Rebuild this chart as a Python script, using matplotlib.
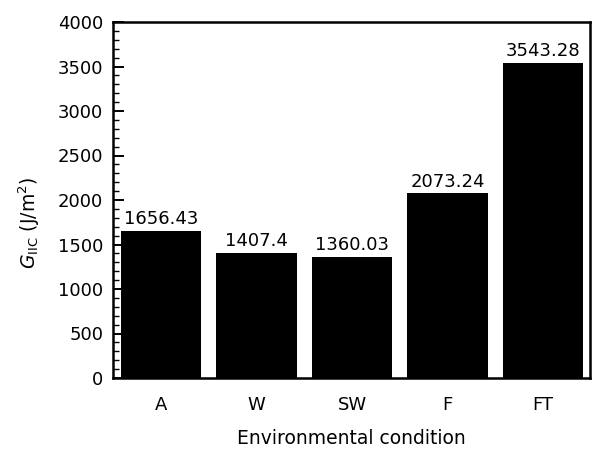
import matplotlib
matplotlib.use("Agg")
import matplotlib.pyplot as plt
from matplotlib.ticker import MultipleLocator

conditions = ["A", "W", "SW", "F", "FT"]
g_iic = [1656.43, 1407.4, 1360.03, 2073.24, 3543.28]
value_labels = ["1656.43", "1407.4", "1360.03", "2073.24", "3543.28"]

plt.rcParams["font.family"] = ["DejaVu Sans"]
plt.rcParams["mathtext.fontset"] = "dejavusans"

fig = plt.figure(figsize=(5.93, 4.53), dpi=100)
ax = fig.add_axes([113 / 593, 1 - 378 / 453, 477 / 593, 356 / 453])

x = range(len(conditions))
ax.bar(x, g_iic, width=0.84, color="black")

# value printed above each bar
for xi, v, lab in zip(x, g_iic, value_labels):
    ax.text(xi, v + 30, lab, ha="center", va="bottom", fontsize=13)

ax.set_xlim(-0.5, 4.49)
ax.set_ylim(0, 4000)
ax.yaxis.set_major_locator(MultipleLocator(500))
ax.yaxis.set_minor_locator(MultipleLocator(100))
ax.tick_params(axis="y", which="major", direction="in", length=8, width=1.4, labelsize=13, pad=7)
ax.tick_params(axis="y", which="minor", direction="in", length=4, width=1.0)
ax.tick_params(axis="x", length=0, labelsize=13, pad=13)
ax.set_xticks(list(x))
ax.set_xticklabels(conditions)

for s in ax.spines.values():
    s.set_linewidth(1.8)

ax.set_xlabel("Environmental condition", fontsize=13.5, labelpad=11)
ax.set_ylabel(r"$G_{\mathrm{IIC}}$ (J/m$^2$)", fontsize=13.5)
ax.yaxis.set_label_coords(-0.148, 0.435)

fig.savefig("out.png", dpi=100)
